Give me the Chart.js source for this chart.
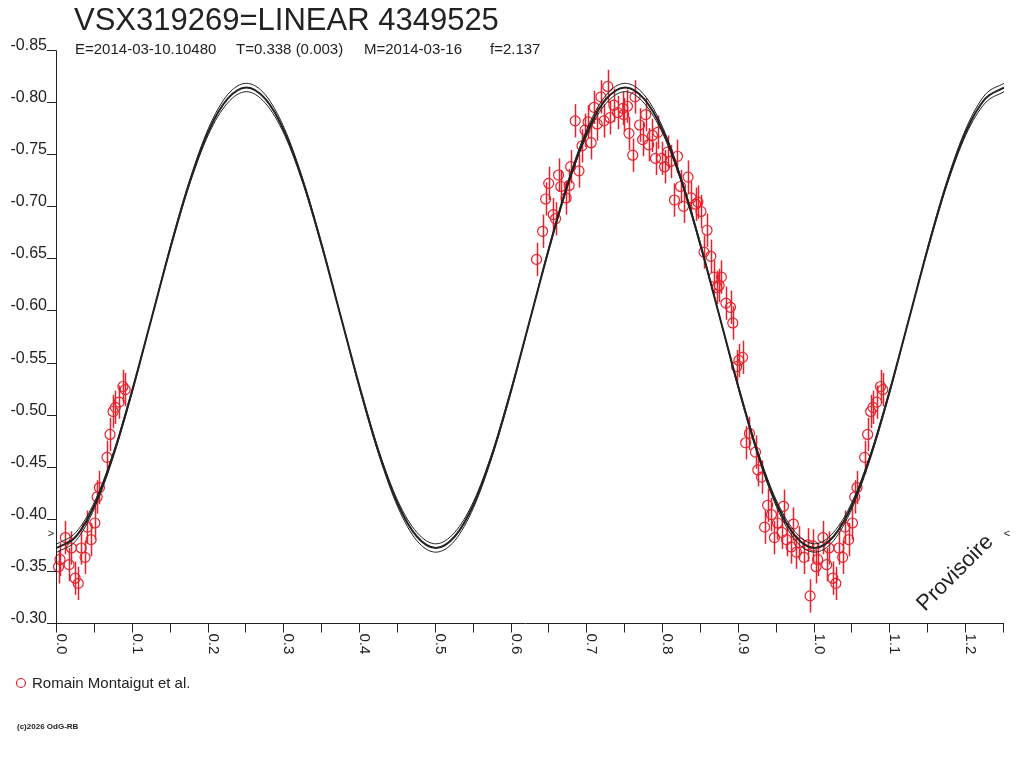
<!DOCTYPE html>
<html>
<head>
<meta charset="utf-8">
<script src="https://cdn.jsdelivr.net/npm/chart.js@4.4.1/dist/chart.umd.min.js"></script>
<style>
  html, body { margin: 0; padding: 0; background: #fff; }
  #wrap { width: 1024px; height: 768px; }
</style>
</head>
<body>
<div id="wrap"><canvas id="lc" width="1024" height="768"></canvas></div>
<script>
// header texts
const chartTitle = 'VSX319269=LINEAR 4349525';
const subtitleParts = ['E=2014-03-10.10480', 'T=0.338 (0.003)', 'M=2014-03-16', 'f=2.137'];
const observer = 'Romain Montaigut et al.';
const copyright = '(c)2026 OdG-RB';

// axis ticks
const xTicks = [0.0, 0.1, 0.2, 0.3, 0.4, 0.5, 0.6, 0.7, 0.8, 0.9, 1.0, 1.1, 1.2];
const xTickLabels = ['0.0', '0.1', '0.2', '0.3', '0.4', '0.5', '0.6', '0.7', '0.8', '0.9', '1.0', '1.1', '1.2'];
const yTicks = [-0.85, -0.80, -0.75, -0.70, -0.65, -0.60, -0.55, -0.50, -0.45, -0.40, -0.35, -0.30];
const yTickLabels = ['-0.85', '-0.80', '-0.75', '-0.70', '-0.65', '-0.60', '-0.55', '-0.50', '-0.45', '-0.40', '-0.35', '-0.30'];

// fitted light curve (phase, magnitude) + its envelope
const fitPhase = [0.000, 0.025, 0.050, 0.075, 0.100, 0.125, 0.150, 0.175, 0.200, 0.225, 0.250,
  0.275, 0.300, 0.325, 0.350, 0.375, 0.400, 0.425, 0.450, 0.475, 0.500,
  0.525, 0.550, 0.575, 0.600, 0.625, 0.650, 0.675, 0.700, 0.725, 0.750,
  0.775, 0.800, 0.825, 0.850, 0.875, 0.900, 0.925, 0.950, 0.975, 1.000,
  1.025, 1.050, 1.075, 1.100, 1.125, 1.150, 1.175, 1.200, 1.225, 1.250];
const fitMid = [-0.372, -0.383, -0.414, -0.463, -0.525, -0.593, -0.661, -0.723, -0.772, -0.803, -0.814,
  -0.803, -0.772, -0.723, -0.661, -0.593, -0.525, -0.463, -0.414, -0.383, -0.372,
  -0.383, -0.414, -0.463, -0.525, -0.593, -0.661, -0.723, -0.772, -0.803, -0.814,
  -0.803, -0.772, -0.723, -0.661, -0.593, -0.525, -0.463, -0.414, -0.383, -0.372,
  -0.383, -0.414, -0.463, -0.525, -0.593, -0.661, -0.723, -0.772, -0.803, -0.814];
const fitHi = [-0.368, -0.379, -0.411, -0.461, -0.523, -0.593, -0.663, -0.725, -0.775, -0.807, -0.818,
  -0.807, -0.775, -0.725, -0.663, -0.593, -0.523, -0.461, -0.411, -0.379, -0.368,
  -0.379, -0.411, -0.461, -0.523, -0.593, -0.663, -0.725, -0.775, -0.807, -0.818,
  -0.807, -0.775, -0.725, -0.663, -0.593, -0.523, -0.461, -0.411, -0.379, -0.368,
  -0.379, -0.411, -0.461, -0.523, -0.593, -0.663, -0.725, -0.775, -0.807, -0.818];
const fitLo = [-0.376, -0.387, -0.417, -0.465, -0.526, -0.593, -0.660, -0.721, -0.769, -0.799, -0.810,
  -0.799, -0.769, -0.721, -0.660, -0.593, -0.526, -0.465, -0.417, -0.387, -0.376,
  -0.387, -0.417, -0.465, -0.526, -0.593, -0.660, -0.721, -0.769, -0.799, -0.810,
  -0.799, -0.769, -0.721, -0.660, -0.593, -0.526, -0.465, -0.417, -0.387, -0.376,
  -0.387, -0.417, -0.465, -0.526, -0.593, -0.660, -0.721, -0.769, -0.799, -0.810];

// observations
const obsPhase = [0.633, 0.641, 0.645, 0.649, 0.655, 0.658, 0.662, 0.665, 0.672, 0.676,
  0.678, 0.689, 0.684, 0.693, 0.697, 0.705, 0.701, 0.709, 0.713, 0.718,
  0.722, 0.727, 0.730, 0.735, 0.740, 0.747, 0.748, 0.755, 0.760, 0.763,
  0.753, 0.769, 0.777, 0.773, 0.781, 0.786, 0.793, 0.790, 0.798, 0.802,
  0.806, 0.810, 0.819, 0.833, 0.823, 0.815, 0.827, 0.837, 0.843, 0.846,
  0.850, 0.858, 0.854, 0.863, 0.867, 0.877, 0.874, 0.871, 0.883, 0.889,
  0.892, 0.905, 0.900, 0.897, 0.914, 0.909, 0.922, 0.925, 0.930, 0.938,
  0.959, 0.943, 0.934, 0.951, 0.972, 0.957, 0.947, 0.963, 0.969, 0.980,
  0.976, 0.986, 0.991, 0.998, 1.011, 1.004, 1.002, 1.016, 1.019, 1.032,
  1.037, 1.024, 1.028, 0.994, 1.040, 1.050, 1.045, 1.056, 1.053, 1.066,
  1.070, 1.087, 1.090, 1.082, 1.077, 1.074];
const obsMag = [-0.649, -0.676, -0.707, -0.722, -0.692, -0.688, -0.730, -0.719, -0.708, -0.720,
  -0.738, -0.734, -0.782, -0.758, -0.773, -0.761, -0.781, -0.795, -0.779, -0.805,
  -0.782, -0.815, -0.785, -0.797, -0.790, -0.794, -0.788, -0.770, -0.749, -0.805,
  -0.796, -0.778, -0.788, -0.764, -0.759, -0.768, -0.771, -0.746, -0.746, -0.738,
  -0.752, -0.743, -0.748, -0.728, -0.719, -0.706, -0.700, -0.708, -0.702, -0.704,
  -0.695, -0.677, -0.656, -0.652, -0.632, -0.632, -0.624, -0.622, -0.607, -0.603,
  -0.588, -0.555, -0.552, -0.546, -0.482, -0.473, -0.464, -0.447, -0.440, -0.413,
  -0.412, -0.404, -0.392, -0.396, -0.395, -0.387, -0.382, -0.380, -0.373, -0.377,
  -0.368, -0.363, -0.375, -0.374, -0.382, -0.361, -0.354, -0.356, -0.372, -0.372,
  -0.363, -0.343, -0.338, -0.326, -0.392, -0.396, -0.380, -0.430, -0.421, -0.459,
  -0.481, -0.527, -0.524, -0.512, -0.507, -0.503];
const obsErr = 0.016;
const refMag = -0.385;   // level of the > < markers

const RED = '#e8202c';
const INK = '#222222';
const FONT = '"Liberation Sans", Arial, sans-serif';

// phases past 1.0 are shown again one cycle earlier
const obsPoints = [];
obsPhase.forEach((p, i) => {
  obsPoints.push({ x: p, y: obsMag[i] });
  if (p >= 1) obsPoints.push({ x: p - 1, y: obsMag[i] });
});
const curve = arr => fitPhase.map((p, i) => ({ x: p, y: arr[i] }));

const decor = {
  id: 'decor',
  beforeDatasetsDraw(chart) {
    const { ctx, scales: { x, y } } = chart;
    ctx.save();
    ctx.strokeStyle = RED;
    ctx.lineWidth = 1.5;
    obsPoints.forEach(pt => {
      const px = Math.round(x.getPixelForValue(pt.x)) + 0.5;
      ctx.beginPath();
      ctx.moveTo(px, y.getPixelForValue(pt.y - obsErr));
      ctx.lineTo(px, y.getPixelForValue(pt.y + obsErr));
      ctx.stroke();
    });
    ctx.restore();
  },
  afterDraw(chart) {
    const { ctx, scales: { x, y } } = chart;
    ctx.save();
    ctx.strokeStyle = INK;
    ctx.fillStyle = INK;
    ctx.lineWidth = 1;

    const x0 = Math.round(x.getPixelForValue(0)) - 0.5;
    const xEnd = x.getPixelForValue(1.25);
    const yTop = Math.round(y.getPixelForValue(-0.85)) + 0.5;
    const yBot = Math.round(y.getPixelForValue(-0.30)) + 0.5;

    // axes
    ctx.beginPath();
    ctx.moveTo(x0, yTop); ctx.lineTo(x0, yBot);
    ctx.moveTo(47, yBot); ctx.lineTo(xEnd, yBot);
    ctx.stroke();

    // y ticks
    ctx.font = '16px ' + FONT;
    ctx.textAlign = 'right';
    ctx.textBaseline = 'alphabetic';
    yTicks.forEach((v, i) => {
      const py = Math.round(y.getPixelForValue(v)) + 0.5;
      ctx.beginPath();
      ctx.moveTo(47, py); ctx.lineTo(x0, py);
      ctx.stroke();
      ctx.fillText(yTickLabels[i], 47, py - 1);
    });

    // x ticks every 0.05
    ctx.beginPath();
    for (let k = 0; k <= 25; k++) {
      const px = Math.round(x.getPixelForValue(k * 0.05)) - 0.5;
      ctx.moveTo(px, yBot); ctx.lineTo(px, yBot + 9);
    }
    ctx.stroke();
    ctx.font = '15px ' + FONT;
    ctx.textAlign = 'left';
    xTicks.forEach((v, i) => {
      const px = Math.round(x.getPixelForValue(v));
      ctx.save();
      ctx.translate(px, yBot + 10);
      ctx.rotate(Math.PI / 2);
      ctx.fillText(xTickLabels[i], 0, 0);
      ctx.restore();
    });

    // reference markers
    ctx.font = '11px ' + FONT;
    ctx.textAlign = 'center';
    ctx.textBaseline = 'middle';
    const pr = y.getPixelForValue(refMag);
    ctx.fillText('>', 51, pr);
    ctx.fillText('<', 1007, pr);

    // title + subtitle
    ctx.textAlign = 'left';
    ctx.textBaseline = 'alphabetic';
    ctx.font = '31px ' + FONT;
    ctx.fillText(chartTitle, 74, 30);
    ctx.font = '15px ' + FONT;
    const subX = [75, 236, 364, 490];
    subtitleParts.forEach((s, i) => ctx.fillText(s, subX[i], 54));

    // watermark
    ctx.save();
    ctx.translate(925, 612);
    ctx.rotate(-Math.PI / 4);
    ctx.font = '22px ' + FONT;
    ctx.fillText('Provisoire', 0, 0);
    ctx.restore();

    // legend
    ctx.strokeStyle = RED;
    ctx.lineWidth = 1.2;
    ctx.beginPath();
    ctx.arc(21, 683, 4.5, 0, Math.PI * 2);
    ctx.stroke();
    ctx.font = '15px ' + FONT;
    ctx.fillText(observer, 32, 688);

    ctx.font = 'bold 8px ' + FONT;
    ctx.fillText(copyright, 17, 729);
    ctx.restore();
  }
};

new Chart(document.getElementById('lc'), {
  type: 'scatter',
  data: {
    datasets: [
      { type: 'line', data: curve(fitHi), borderColor: INK, borderWidth: 1, pointRadius: 0, cubicInterpolationMode: 'monotone', fill: false },
      { type: 'line', data: curve(fitMid), borderColor: INK, borderWidth: 2, pointRadius: 0, cubicInterpolationMode: 'monotone', fill: false },
      { type: 'line', data: curve(fitLo), borderColor: INK, borderWidth: 1, pointRadius: 0, cubicInterpolationMode: 'monotone', fill: false },
      {
        label: observer,
        data: obsPoints,
        pointRadius: 5,
        pointBorderColor: RED,
        pointBackgroundColor: 'rgba(0,0,0,0)',
        pointBorderWidth: 1.2,
        clip: false
      }
    ]
  },
  options: {
    responsive: false,
    animation: false,
    devicePixelRatio: 1,
    layout: { padding: { left: 57, top: 50, right: 20, bottom: 145 } },
    scales: {
      x: { type: 'linear', min: 0, max: 1.25, display: false },
      y: { type: 'linear', min: -0.85, max: -0.30, reverse: true, display: false }
    },
    plugins: { legend: { display: false }, tooltip: { enabled: false } },
    events: []
  },
  plugins: [decor]
});
</script>
</body>
</html>
